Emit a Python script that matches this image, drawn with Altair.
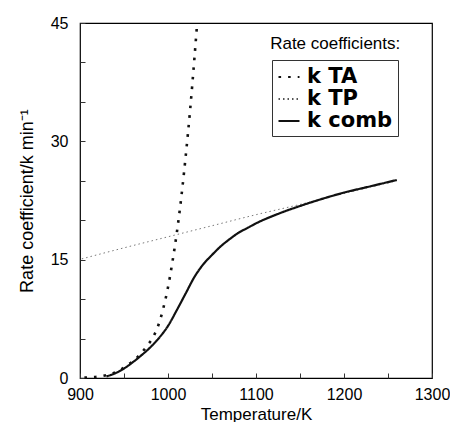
import altair as alt
import pandas as pd

# ---- data ----
ta_T = [905, 915, 925, 935, 945, 955, 965, 975, 985, 990, 995, 1000, 1005, 1010, 1015, 1020, 1025, 1030, 1033]
ta_k = [0.05, 0.1, 0.25, 0.5, 1.0, 1.7, 2.6, 3.9, 5.6, 7.0, 9.0, 11.5, 14.7, 18.4, 22.8, 28.0, 33.8, 40.5, 44.8]

tp_T = [902, 950, 1000, 1050, 1100, 1150, 1200, 1260]
tp_k = [15.1, 16.5, 17.9, 19.3, 20.7, 22.0, 23.4, 25.0]

comb_T = [930, 940, 950, 960, 970, 980, 990, 1000, 1010, 1020, 1030, 1040, 1050, 1060, 1070,
          1080, 1090, 1100, 1125, 1150, 1175, 1200, 1230, 1260]
comb_k = [0.2, 0.6, 1.2, 2.0, 2.9, 3.9, 5.1, 6.6, 8.6, 10.7, 12.8, 14.4, 15.6, 16.7, 17.6,
          18.4, 19.0, 19.6, 20.8, 21.8, 22.7, 23.5, 24.3, 25.1]

series = ["k TA", "k TP", "k comb"]
series_width = [2.6, 0.8, 2.2]
x_ticks = list(range(900, 1301, 50))
y_ticks = list(range(0, 46, 5))

heading_text = ["Rate coefficients:"]
heading_T = [1190]
heading_k = [42.4]

rows = []
for name, w, T, k in [("k TA", series_width[0], ta_T, ta_k),
                      ("k TP", series_width[1], tp_T, tp_k),
                      ("k comb", series_width[2], comb_T, comb_k)]:
    for t, v in zip(T, k):
        rows.append({"T": t, "k": v, "series": name, "w": w})
df = pd.DataFrame(rows)
head_df = pd.DataFrame({"T": heading_T, "k": heading_k, "text": heading_text})

FONT = "Liberation Sans"

x_enc = alt.X("T:Q", scale=alt.Scale(domain=[900, 1300], nice=False),
              axis=alt.Axis(title="Temperature/K", values=x_ticks,
                            labelExpr="datum.value % 100 == 0 ? datum.label : ''",
                            format="d", grid=False, domain=False, offset=-5, tickSize=5,
                            tickColor="#333", labelPadding=8, titlePadding=4,
                            labelFontSize=16, titleFontSize=17, labelFont=FONT, titleFont=FONT,
                            labelColor="black", titleColor="black", titleFontWeight="normal",
                            labelFlush=False, labelOverlap=False))
y_enc = alt.Y("k:Q", scale=alt.Scale(domain=[0, 45], nice=False),
              axis=alt.Axis(title="Rate coefficient/k min⁻¹", values=y_ticks,
                            labelExpr="(datum.value == 0 || datum.value == 15 || datum.value == 30 || datum.value == 45) ? datum.label : ''",
                            grid=False, domain=False, offset=-5, tickSize=5,
                            tickColor="#333", labelPadding=12, titlePadding=14,
                            labelFontSize=16, titleFontSize=18, labelFont=FONT, titleFont=FONT,
                            labelColor="black", titleColor="black", titleFontWeight="normal",
                            labelFlush=False, labelOverlap=False, labelBound=False))

legend = alt.Legend(title=None, orient="none", legendX=192, legendY=37,
                    strokeColor="#333", padding=5, symbolType="stroke", symbolSize=441,
                    symbolStrokeWidth=2.2,
                    labelFontSize=21, labelFont="DejaVu Sans", labelFontWeight="bold",
                    labelColor="black", rowPadding=0, labelOffset=6)

lines = alt.Chart(df).mark_line(interpolate="monotone").encode(
    x=x_enc,
    y=y_enc,
    color=alt.Color("series:N", scale=alt.Scale(domain=series, range=["#111", "#555", "#111"]),
                    legend=legend),
    strokeDash=alt.StrokeDash("series:N", scale=alt.Scale(domain=series,
                              range=[[2.6, 7], [1.5, 3], [1, 0]]), legend=legend),
    strokeWidth=alt.StrokeWidth("w:Q", scale=None, legend=None),
)

heading = alt.Chart(head_df).mark_text(font=FONT, fontSize=17, color="black",
                                       align="center", baseline="middle").encode(
    x=x_enc, y=y_enc, text="text:N")

chart = alt.layer(lines, heading).properties(
    width=352, height=355,
    autosize=alt.AutoSizeParams(type="none"),
    padding={"left": 72, "top": 15, "right": 18, "bottom": 44},
).configure_view(stroke="black", strokeWidth=1.2).configure_axis(labelOverlap=False)

chart.save("out.html", embed_options={"renderer": "svg", "actions": False})
